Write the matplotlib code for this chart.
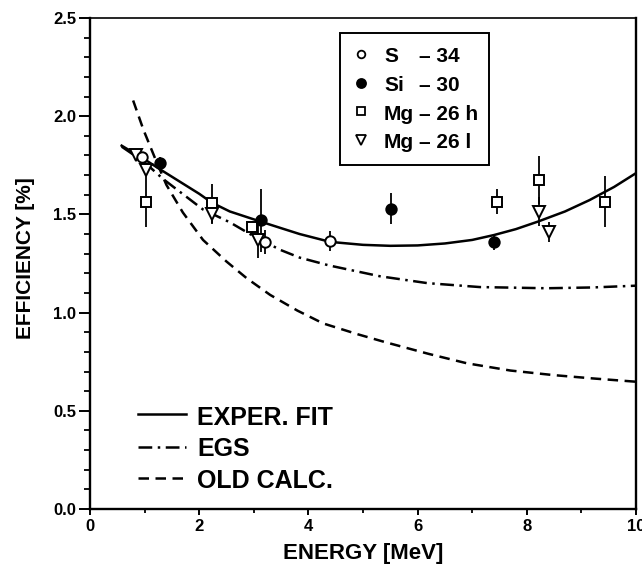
import matplotlib
matplotlib.use("Agg")
import matplotlib.pyplot as plt
from matplotlib import font_manager
from matplotlib.patches import Rectangle
from matplotlib.lines import Line2D
from matplotlib.ticker import MultipleLocator, FormatStrFormatter

names = {f.name for f in font_manager.fontManager.ttflist}
FONT = "Liberation Sans" if "Liberation Sans" in names else "DejaVu Sans"
plt.rcParams["font.family"] = [FONT, "DejaVu Sans"]

# ---- data -------------------------------------------------------------
s34_E = [0.96, 3.20, 4.40]
s34_eff = [1.79, 1.36, 1.366]
s34_err = [0.0, 0.06, 0.05]

si30_E = [1.28, 3.14, 5.52, 7.40]
si30_eff = [1.76, 1.47, 1.53, 1.36]
si30_err = [0.03, 0.16, 0.077, 0.04]

mgh_E = [1.02, 2.23, 2.96, 7.45, 8.23, 9.43]
mgh_eff = [1.565, 1.556, 1.437, 1.565, 1.675, 1.565]
mgh_err = [0.13, 0.10, 0.03, 0.064, 0.12, 0.13]

mgl_E = [0.84, 1.02, 2.23, 3.08, 8.23, 8.41]
mgl_eff = [1.80, 1.725, 1.50, 1.37, 1.514, 1.412]
mgl_err = [0.02, 0.03, 0.05, 0.09, 0.075, 0.05]

fit_E = [0.58, 1.0, 1.28, 2.0, 2.23, 2.56, 3.14, 3.5, 3.84, 4.4, 5.0, 5.5,
         6.0, 6.5, 7.0, 7.4, 7.8, 8.2, 8.7, 9.15, 9.6, 10.0]
fit_eff = [1.85, 1.78, 1.73, 1.605, 1.56, 1.515, 1.462, 1.43, 1.40, 1.36,
           1.345, 1.34, 1.342, 1.352, 1.37, 1.395, 1.425, 1.463, 1.515,
           1.573, 1.64, 1.71]

egs_E = [0.58, 1.0, 1.34, 2.07, 2.56, 2.93, 3.48, 3.84, 4.38, 5.31, 6.18,
         7.14, 8.36, 9.2, 10.0]
egs_eff = [1.845, 1.765, 1.68, 1.525, 1.46, 1.40, 1.32, 1.28, 1.24, 1.185,
           1.15, 1.13, 1.124, 1.128, 1.137]

old_E = [0.79, 0.98, 1.2, 1.4, 1.7, 2.07, 2.5, 2.87, 3.3, 3.8, 4.27, 4.9,
         5.4, 6.2, 6.9, 7.7, 8.48, 9.2, 10.0]
old_eff = [2.08, 1.93, 1.78, 1.65, 1.51, 1.37, 1.26, 1.175, 1.09, 1.01,
           0.945, 0.89, 0.85, 0.79, 0.742, 0.705, 0.682, 0.665, 0.648]

series_labels = [("S", "– 34"), ("Si", "– 30"), ("Mg", "– 26 h"), ("Mg", "– 26 l")]
line_labels = ["EXPER. FIT", "EGS", "OLD CALC."]
x_label = "ENERGY [MeV]"
y_label = "EFFICIENCY [%]"

# ---- figure -----------------------------------------------------------
fig = plt.figure(figsize=(6.42, 5.67), dpi=100)
ax = fig.add_axes([90 / 642, 58 / 567, 546 / 642, 491 / 567])

LW = 1.8
solid = "-"
dashdot = (0, (5.5, 2.2, 1.0, 2.2))
dashed = (0, (4.2, 2.6))

ax.plot(fit_E, fit_eff, color="black", lw=LW, ls=solid, zorder=2)
ax.plot(egs_E, egs_eff, color="black", lw=LW, ls=dashdot, zorder=2)
ax.plot(old_E, old_eff, color="black", lw=LW, ls=dashed, zorder=2)

ekw = dict(ls="none", ecolor="black", elinewidth=1.3, capsize=0,
           mec="black", mew=1.4, zorder=3)
ax.errorbar(mgh_E, mgh_eff, yerr=mgh_err, marker="s", ms=6.5, mfc="white", **ekw)
ax.errorbar(mgl_E, mgl_eff, yerr=mgl_err, marker="v", ms=8.5, mfc="white", **ekw)
ax.errorbar(s34_E, s34_eff, yerr=s34_err, marker="o", ms=7.5, mfc="white", **ekw)
ax.errorbar(si30_E, si30_eff, yerr=si30_err, marker="o", ms=7.5, mfc="black", **ekw)

ax.set_xlim(0, 10)
ax.set_ylim(0, 2.5)
ax.xaxis.set_major_locator(MultipleLocator(2))
ax.xaxis.set_minor_locator(MultipleLocator(1))
ax.yaxis.set_major_locator(MultipleLocator(0.5))
ax.yaxis.set_minor_locator(MultipleLocator(0.1))
ax.yaxis.set_major_formatter(FormatStrFormatter("%.1f"))

ax.tick_params(axis="y", which="major", direction="out", length=8, width=1.4,
               labelsize=12, pad=2)
ax.tick_params(axis="y", which="minor", direction="out", length=4.5, width=1.3)
ax.tick_params(axis="x", which="major", direction="out", length=4, width=1.4,
               labelsize=12, pad=3)
ax.tick_params(axis="x", which="minor", direction="out", length=3, width=1.3)
for lab in ax.get_xticklabels() + ax.get_yticklabels():
    lab.set_fontweight("bold")

for side in ["left", "bottom", "right"]:
    ax.spines[side].set_linewidth(1.7)
ax.spines["top"].set_linewidth(1.2)

ax.set_xlabel(x_label, fontsize=16, fontweight="bold")
ax.xaxis.set_label_coords(0.5, -0.07)
ax.set_ylabel(y_label, fontsize=15, fontweight="bold")
ax.yaxis.set_label_coords(-0.1, 0.51)

# ---- marker legend (top) ----------------------------------------------
def axx(px):
    return (px - 90) / 546


def axy(py):
    return (509 - py) / 491


ax.add_patch(Rectangle((axx(340), axy(165)), axx(489) - axx(340),
                       axy(33) - axy(165), transform=ax.transAxes,
                       fill=False, ec="black", lw=1.4, zorder=5))
leg_markers = [("o", "white", 5.5), ("o", "black", 6.5), ("s", "white", 5.5),
               ("v", "white", 7)]
row_center = [53.5, 82.5, 111, 140]
row_base = [61.5, 91.0, 120, 148]
for (mk, fc, ms), (nm, num), yc, yb in zip(leg_markers, series_labels,
                                           row_center, row_base):
    ax.add_line(Line2D([axx(361)], [axy(yc)], marker=mk, ms=ms, mfc=fc,
                       mec="black", mew=1.3, ls="none",
                       transform=ax.transAxes, zorder=6))
    ax.text(axx(384), axy(yb), nm, transform=ax.transAxes, fontsize=15,
            fontweight="bold", va="baseline", ha="left", zorder=6)
    ax.text(axx(419), axy(yb), num, transform=ax.transAxes, fontsize=15,
            fontweight="bold", va="baseline", ha="left", zorder=6)

# ---- line legend (bottom-left) ----------------------------------------
line_styles = [solid, dashdot, dashed]
line_y = [414, 447, 478]
text_base = [425, 456.5, 488]
for ls, lab, yl, yb in zip(line_styles, line_labels, line_y, text_base):
    ax.add_line(Line2D([axx(138), axx(186)], [axy(yl), axy(yl)], color="black",
                       lw=LW, ls=ls, transform=ax.transAxes))
    ax.text(axx(197), axy(yb), lab, transform=ax.transAxes, fontsize=18,
            fontweight="bold", va="baseline", ha="left")

fig.savefig("out.png", dpi=100)
